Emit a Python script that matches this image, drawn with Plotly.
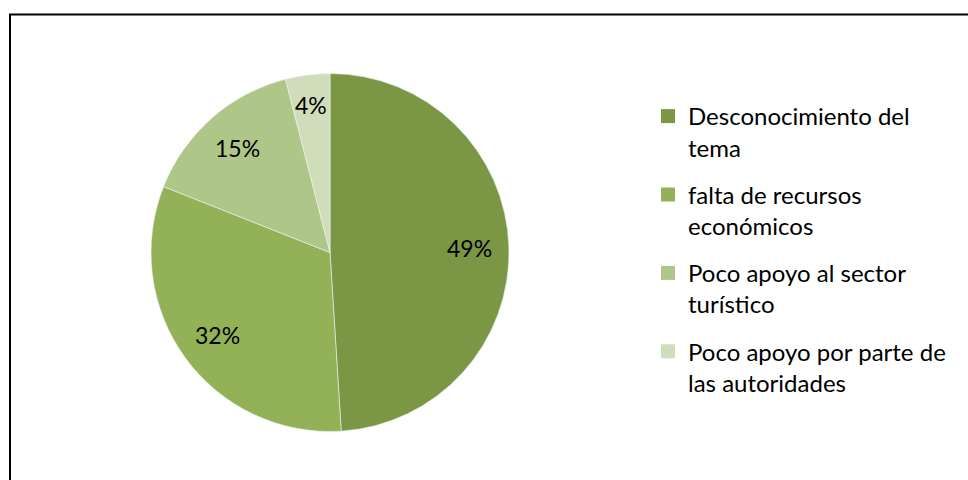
import math
import plotly.graph_objects as go

categories = ["Desconocimiento del<br>tema", "falta de recursos<br>económicos",
              "Poco apoyo al sector<br>turístico", "Poco apoyo por parte de<br>las autoridades"]
values = [49, 32, 15, 4]
colors = ["#7B9645", "#93B157", "#AFC689", "#CFDDBA"]

W, H = 968, 480
# pie placement (pixels)
px_left, px_right, px_top, px_bottom = 151, 509, 73, 432
dom_x = [px_left / W, px_right / W]
dom_y = [1 - px_bottom / H, 1 - px_top / H]

fig = go.Figure()
fig.add_trace(go.Pie(
    labels=categories,
    values=values,
    sort=False,
    direction="clockwise",
    rotation=0,
    marker=dict(colors=colors, line=dict(color="#F2F2F2", width=0.6)),
    textinfo="none",
    domain=dict(x=dom_x, y=dom_y),
    hoverinfo="label+percent",
    showlegend=False,
))

# legend entries (one per slice, so spacing between entries can be set)
for i, (lab, col) in enumerate(zip(categories, colors)):
    fig.add_trace(go.Scatter(
        x=[None], y=[None], mode="markers", name=lab,
        marker=dict(symbol="square", size=14, color=col),
        legendgroup=f"g{i}", showlegend=True, hoverinfo="skip",
    ))

# percentage labels placed along each slice's mid-angle
cx = (px_left + px_right) / 2
cy = (px_top + px_bottom) / 2
R = min(px_right - px_left, px_bottom - px_top) / 2
total = sum(values)
cum = 0
annotations = []
for v in values:
    mid = (cum + v / 2) / total * 2 * math.pi
    cum += v
    frac = 0.78 if v > 5 else 0.83
    lx = cx + frac * R * math.sin(mid)
    ly = cy - frac * R * math.cos(mid)
    annotations.append(dict(
        x=lx / W, y=1 - ly / H, xref="paper", yref="paper",
        text=f"{round(v / total * 100)}%", showarrow=False,
        font=dict(family="Lato", size=23, color="black"),
        xanchor="center", yanchor="middle",
    ))

fig.update_layout(
    width=W, height=H,
    margin=dict(l=0, r=0, t=0, b=0),
    paper_bgcolor="white",
    plot_bgcolor="white",
    font=dict(family="Lato", size=24, color="black"),
    xaxis=dict(visible=False),
    yaxis=dict(visible=False),
    showlegend=True,
    legend=dict(x=648 / W, y=1 - 94 / H, xanchor="left", yanchor="top",
                font=dict(family="Lato", size=24, color="black"),
                valign="top", itemwidth=30, tracegroupgap=13,
                bgcolor="rgba(0,0,0,0)"),
    annotations=annotations,
    shapes=[
        dict(type="line", xref="paper", yref="paper", x0=9 / W, x1=1,
             y0=1 - 14.5 / H, y1=1 - 14.5 / H, line=dict(color="black", width=2)),
        dict(type="line", xref="paper", yref="paper", x0=10 / W, x1=10 / W,
             y0=0, y1=1 - 14 / H, line=dict(color="black", width=2)),
    ],
)

fig.write_html("out.html", config={"displayModeBar": False},
               post_script="document.body.style.margin='0';")
